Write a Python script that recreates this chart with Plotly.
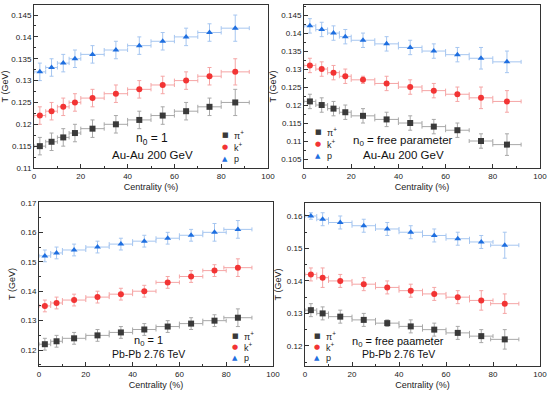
import plotly.graph_objects as go

W, H = 550, 396

# centrality bins (%): centres and half widths
au_cent = [2.5, 7.5, 12.5, 17.5, 25, 35, 45, 55, 65, 75, 86]
au_cent_err = [2.5, 2.5, 2.5, 2.5, 5, 5, 5, 5, 5, 5, 6]
pb_cent = [2.5, 7.5, 15, 25, 35, 45, 55, 65, 75, 85]
pb_cent_err = [2.5, 2.5, 5, 5, 5, 5, 5, 5, 5, 6]

# Au-Au 200 GeV, n0 = 1
au1_pi = [0.115, 0.116, 0.117, 0.118, 0.119, 0.120, 0.121, 0.122, 0.123, 0.124, 0.125]
au1_pi_err = [0.002, 0.002, 0.002, 0.002, 0.002, 0.002, 0.002, 0.002, 0.002, 0.002, 0.003]
au1_k = [0.122, 0.123, 0.124, 0.125, 0.126, 0.127, 0.128, 0.129, 0.130, 0.131, 0.132]
au1_k_err = [0.002, 0.002, 0.002, 0.002, 0.002, 0.002, 0.002, 0.002, 0.002, 0.002, 0.003]
au1_p = [0.132, 0.133, 0.134, 0.135, 0.136, 0.137, 0.138, 0.139, 0.140, 0.141, 0.142]
au1_p_err = [0.002, 0.002, 0.002, 0.002, 0.002, 0.002, 0.002, 0.002, 0.002, 0.002, 0.003]

# Au-Au 200 GeV, n0 free
au2_pi = [0.121, 0.120, 0.119, 0.118, 0.117, 0.116, 0.115, 0.114, 0.113, 0.110, 0.109]
au2_pi_err = [0.002, 0.002, 0.002, 0.002, 0.002, 0.002, 0.002, 0.002, 0.002, 0.002, 0.003]
au2_k = [0.131, 0.130, 0.129, 0.128, 0.127, 0.126, 0.125, 0.124, 0.123, 0.122, 0.121]
au2_k_err = [0.002, 0.002, 0.002, 0.002, 0.001, 0.002, 0.002, 0.002, 0.002, 0.003, 0.003]
au2_p = [0.142, 0.141, 0.140, 0.139, 0.138, 0.137, 0.136, 0.135, 0.134, 0.133, 0.132]
au2_p_err = [0.002, 0.002, 0.002, 0.002, 0.002, 0.002, 0.002, 0.002, 0.002, 0.003, 0.003]

# Pb-Pb 2.76 TeV, n0 = 1
pb1_pi = [0.122, 0.123, 0.124, 0.125, 0.126, 0.127, 0.128, 0.129, 0.130, 0.131]
pb1_pi_err = [0.002, 0.002, 0.002, 0.002, 0.002, 0.002, 0.002, 0.002, 0.002, 0.003]
pb1_k = [0.135, 0.136, 0.137, 0.138, 0.139, 0.140, 0.143, 0.145, 0.147, 0.148]
pb1_k_err = [0.002, 0.002, 0.002, 0.002, 0.002, 0.002, 0.002, 0.002, 0.002, 0.003]
pb1_p = [0.152, 0.153, 0.154, 0.155, 0.156, 0.157, 0.158, 0.159, 0.160, 0.161]
pb1_p_err = [0.002, 0.002, 0.002, 0.002, 0.002, 0.002, 0.002, 0.002, 0.003, 0.003]

# Pb-Pb 2.76 TeV, n0 free
pb2_pi = [0.131, 0.130, 0.129, 0.128, 0.127, 0.126, 0.125, 0.124, 0.123, 0.122]
pb2_pi_err = [0.002, 0.002, 0.002, 0.002, 0.001, 0.002, 0.002, 0.002, 0.002, 0.003]
pb2_k = [0.142, 0.141, 0.140, 0.139, 0.138, 0.137, 0.136, 0.135, 0.134, 0.133]
pb2_k_err = [0.002, 0.003, 0.002, 0.002, 0.002, 0.002, 0.002, 0.002, 0.003, 0.003]
pb2_p = [0.160, 0.159, 0.158, 0.157, 0.156, 0.155, 0.154, 0.153, 0.152, 0.151]
pb2_p_err = [0.001, 0.002, 0.002, 0.002, 0.002, 0.002, 0.002, 0.002, 0.002, 0.004]

species = ["π<sup>+</sup>", "k<sup>+</sup>", "p"]
marker_colors = ["#3a3a3a", "#f23434", "#1f6fe0"]
err_colors = ["#a8a8a8", "#f5a5a5", "#a6c6f0"]
symbols = ["square", "circle", "triangle-up"]
glyphs = ["■", "●", "▲"]

FONT = "Arial, Liberation Sans, sans-serif"

# layout per panel, in pixels of the 550x396 page
panels = [
    dict(x=au_cent, xe=au_cent_err, ys=[au1_pi, au1_k, au1_p], es=[au1_pi_err, au1_k_err, au1_p_err],
         box=(34, 268, 5, 168), yr=[0.11, 0.1473], dt=0.005,
         ntext="n<sub>0</sub> = 1", sys="Au-Au 200 GeV", txt=(152, 139, 155), tsz=(12, 11.5),
         leg=(225, [135, 147, 159])),
    dict(x=au_cent, xe=au_cent_err, ys=[au2_pi, au2_k, au2_p], es=[au2_pi_err, au2_k_err, au2_p_err],
         box=(304, 540, 5, 168), yr=[0.1025, 0.1478], dt=0.005,
         ntext="n<sub>0</sub> = free parameter", sys="Au-Au 200 GeV", txt=(403, 141, 155), tsz=(11.5, 11.5),
         leg=(318, [132, 144, 156])),
    dict(x=pb_cent, xe=pb_cent_err, ys=[pb1_pi, pb1_k, pb1_p], es=[pb1_pi_err, pb1_k_err, pb1_p_err],
         box=(39, 273, 202, 366), yr=[0.1146, 0.1703], dt=0.01,
         ntext="n<sub>0</sub> = 1", sys="Pb-Pb 2.76 TeV", txt=(148, 341, 354), tsz=(11, 10.5),
         leg=(235, [336, 347, 358])),
    dict(x=pb_cent, xe=pb_cent_err, ys=[pb2_pi, pb2_k, pb2_p], es=[pb2_pi_err, pb2_k_err, pb2_p_err],
         box=(305, 540, 203, 366), yr=[0.1138, 0.164], dt=0.01,
         ntext="n<sub>0</sub> = free paameter", sys="Pb-Pb 2.76 TeV", txt=(398, 342, 354), tsz=(11, 10.5),
         leg=(317, [336, 347, 358])),
]


def px(x):
    return x / W


def py(y):
    return 1 - y / H


fig = go.Figure()
annotations = []
for i, pn in enumerate(panels, start=1):
    sfx = "" if i == 1 else str(i)
    x0, x1, y0, y1 = pn["box"]
    for j in range(3):
        fig.add_trace(go.Scatter(
            x=pn["x"], y=pn["ys"][j], mode="markers", name=species[j], showlegend=False,
            xaxis=f"x{sfx}", yaxis=f"y{sfx}",
            marker=dict(symbol=symbols[j], color=marker_colors[j], size=6),
            error_x=dict(type="data", array=pn["xe"], color=err_colors[j], thickness=1, width=2),
            error_y=dict(type="data", array=pn["es"][j], color=err_colors[j], thickness=1, width=2),
        ))
    axis_common = dict(
        showline=True, linecolor="#333", linewidth=1, mirror=True, ticks="inside",
        ticklen=4, tickcolor="#333", showgrid=False, zeroline=False, automargin=False,
        tickfont=dict(size=8, color="#222", family=FONT),
    )
    fig.layout[f"xaxis{sfx}"] = dict(
        axis_common, domain=[px(x0), px(x1)], anchor=f"y{sfx}", range=[0, 100], dtick=20,
        minor=dict(dtick=10, ticks="inside", ticklen=2, tickcolor="#333"),
        title=dict(text="Centrality (%)", font=dict(size=9, color="#222", family=FONT), standoff=4),
    )
    fig.layout[f"yaxis{sfx}"] = dict(
        axis_common, domain=[py(y1), py(y0)], anchor=f"x{sfx}", range=pn["yr"], dtick=pn["dt"],
        tickformat="~g",
        minor=dict(dtick=pn["dt"] / 2, ticks="inside", ticklen=2, tickcolor="#333"),
        title=dict(text="T (GeV)", font=dict(size=9, color="#222", family=FONT), standoff=3),
    )
    # legend drawn as text: coloured glyph + species label
    lx, lys = pn["leg"]
    for j in range(3):
        annotations.append(dict(x=px(lx), y=py(lys[j]), xref="paper", yref="paper",
                                text=glyphs[j], showarrow=False, xanchor="center", yanchor="middle",
                                font=dict(size=7, color=marker_colors[j], family="DejaVu Sans")))
        annotations.append(dict(x=px(lx + 7), y=py(lys[j]), xref="paper", yref="paper",
                                text=species[j], showarrow=False, xanchor="left", yanchor="middle",
                                font=dict(size=9, color="#222", family=FONT)))
    tx, ty1, ty2 = pn["txt"]
    annotations.append(dict(x=px(tx), y=py(ty1), xref="paper", yref="paper",
                            text=pn["ntext"], showarrow=False, xanchor="center", yanchor="middle",
                            font=dict(size=pn["tsz"][0], color="#111", family=FONT)))
    annotations.append(dict(x=px(tx), y=py(ty2), xref="paper", yref="paper",
                            text=pn["sys"], showarrow=False, xanchor="center", yanchor="middle",
                            font=dict(size=pn["tsz"][1], color="#111", family=FONT)))

fig.update_layout(
    width=W, height=H, margin=dict(l=0, r=0, t=0, b=0),
    paper_bgcolor="white", plot_bgcolor="white", annotations=annotations,
    font=dict(family=FONT), showlegend=False,
)

# drop the browser's default body margin so the figure sits at the page origin
fig.write_html("out.html", config={"displayModeBar": False},
               post_script="document.body.style.margin = '0';")
